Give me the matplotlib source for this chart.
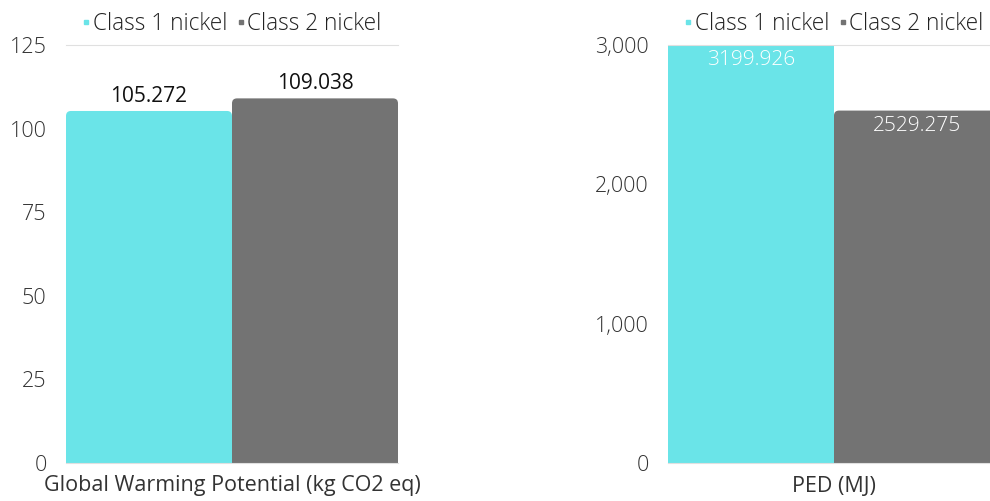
import matplotlib.pyplot as plt
from matplotlib.patches import FancyBboxPatch
from matplotlib.lines import Line2D

# series and values
series = ["Class 1 nickel", "Class 2 nickel"]
colors = ["#6ae4e8", "#737373"]

gwp_values = [105.272, 109.038]
gwp_label = "Global Warming Potential (kg CO2 eq)"
gwp_ticks = [0, 25, 50, 75, 100, 125]

ped_values = [3199.926, 2529.275]
ped_label = "PED (MJ)"
ped_ticks = [0, 1000, 2000, 3000]

plt.rcParams['font.family'] = ['Open Sans', 'DejaVu Sans']
plt.rcParams['font.weight'] = 300

fig = plt.figure(figsize=(9.9, 5.01), dpi=100)
W, H = 990, 501


def px_axes(x0, y0, x1, y1):
    # axes placed by pixel edges (top-left origin)
    return fig.add_axes([x0 / W, 1 - y1 / H, (x1 - x0) / W, (y1 - y0) / H])


def draw_panel(ax, values, ticks, xlabel, label_inside, fmt):
    ymax = ticks[-1]
    ax.set_xlim(-0.5, 0.5)
    ax.set_ylim(0, ymax)
    bbox = ax.get_window_extent()
    # keep the rounded corners circular despite different axis scales
    aspect = (ymax / bbox.height) / (1.0 / bbox.width)
    r = 5.0 / bbox.width
    xs = [-0.25, 0.25]
    for x, v, c in zip(xs, values, colors):
        top = min(v, ymax * 1.02)
        p = FancyBboxPatch((x - 0.25, -ymax * 0.05), 0.5, top + ymax * 0.05,
                           boxstyle=f"round,pad=0,rounding_size={r}",
                           mutation_aspect=aspect, fc=c, ec="none",
                           clip_on=True, zorder=2)
        ax.add_patch(p)
        if label_inside:
            ax.text(x, min(v, ymax) - ymax * 0.012, fmt.format(v),
                    ha="center", va="top", color="white", fontsize=15,
                    zorder=3)
        else:
            ax.text(x, v + ymax * 0.01, fmt.format(v), ha="center",
                    va="bottom", color="#111111", fontsize=15,
                    fontweight="normal", zorder=3)

    ax.set_yticks(ticks)
    ax.set_yticklabels([f"{t:,}" for t in ticks])
    ax.tick_params(axis="y", length=0, pad=14, labelsize=15.5,
                   labelcolor="#333333")
    ax.set_xticks([])
    ax.set_xlabel(xlabel, fontsize=15.5, color="#333333", labelpad=9)
    for s in ["left", "right"]:
        ax.spines[s].set_visible(False)
    ax.spines["top"].set_color("#e0e0e0")
    ax.spines["bottom"].set_color("#e0e0e0")
    ax.set_facecolor("none")

    handles = [Line2D([], [], marker="s", ls="none", color=c, markersize=3)
               for c in colors]
    ax.legend(handles, series, loc="lower center", bbox_to_anchor=(0.5, 1.0),
              ncol=2, frameon=False, fontsize=16.3, handlelength=0.3,
              handletextpad=0.15, columnspacing=0.45, borderaxespad=0.0,
              labelcolor="#222222")


ax1 = px_axes(66, 45, 398, 463)
draw_panel(ax1, gwp_values, gwp_ticks, gwp_label, False, "{:.3f}")

ax2 = px_axes(668, 45, 1000, 463)
draw_panel(ax2, ped_values, ped_ticks, ped_label, True, "{:.3f}")

fig.savefig("out.png", dpi=100)
